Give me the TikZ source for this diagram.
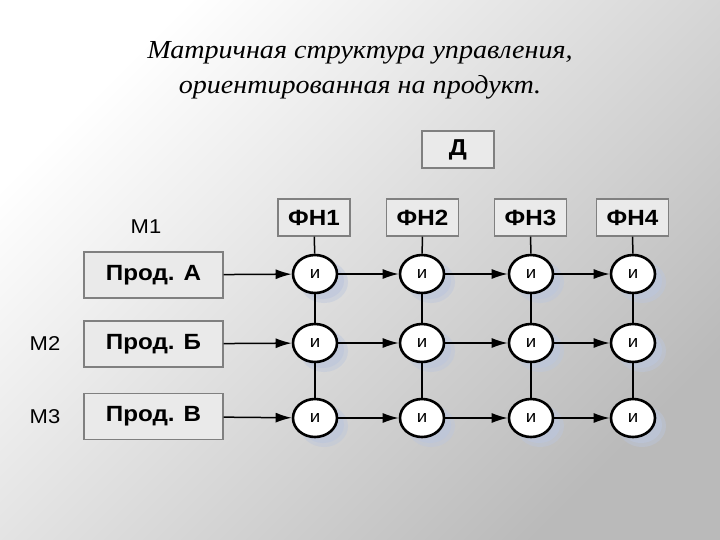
\documentclass[tikz,border=0pt]{standalone}
\usepackage{fontspec}
\setmainfont{Liberation Serif}
\setsansfont{Liberation Sans}
\newfontfamily\widesans[FakeStretch=1.1]{Liberation Sans}
\newfontfamily\widetitle[FakeStretch=1.08]{Liberation Serif}
\usetikzlibrary{shapes.geometric,arrows.meta}
\definecolor{bgdark}{RGB}{186,186,186}
\definecolor{boxfill}{RGB}{234,234,234}
\definecolor{boxline}{RGB}{128,128,128}
\definecolor{shadowc}{RGB}{188,198,220}
\begin{document}
\begin{tikzpicture}[x=1pt,y=-1pt,
  box/.style={draw=boxline,fill=boxfill,line width=1.2pt,inner sep=0pt,
    font=\widesans\bfseries\fontsize{22}{26}\selectfont},
  fnbox/.style={box,minimum width=72pt,minimum height=37pt},
  prodbox/.style={box,minimum width=139pt,minimum height=46pt,
    font=\widesans\bfseries\fontsize{22}{26}\selectfont},
  inode/.style={ellipse,draw=black,fill=white,line width=2.6pt,inner sep=0pt,
    minimum width=44pt,minimum height=38pt,font=\widesans\fontsize{17}{20}\selectfont},
  conn/.style={line width=1.5pt},
  arr/.style={conn,-{Latex[length=16pt,width=10pt]}},
  mlabel/.style={font=\widesans\fontsize{20}{24}\selectfont}
]
\useasboundingbox (0,0) rectangle (720,540);
\shade[shading=axis,top color=white,bottom color=bgdark,shading angle=45] (0,0) rectangle (720,540);

\node[align=center,font=\widetitle\itshape\fontsize{26}{35}\selectfont] (title) at (360,70)
  {Матричная структура управления,\\ориентированная на продукт.};

\node[fnbox,font=\widesans\bfseries\fontsize{23}{27}\selectfont] (D) at (458,149.5) {Д};
\node[fnbox] (F1) at (314,217.5) {ФН1};
\node[fnbox] (F2) at (422.5,217.5) {ФН2};
\node[fnbox] (F3) at (530.5,217.5) {ФН3};
\node[fnbox] (F4) at (632.5,217.5) {ФН4};

\node[prodbox] (P1) at (153.5,275) {Прод. А};
\node[prodbox] (P2) at (153.5,344) {Прод. Б};
\node[prodbox] (P3) at (153.5,416.5) {Прод. В};

\node[mlabel] (M1) at (146,227) {М1};
\node[mlabel] (M2) at (45,344) {М2};
\node[mlabel] (M3) at (45,417) {М3};

% shadows
\foreach \x in {315,422,531,633}
  \foreach \y in {274,343,418}{
    \fill[shadowc,opacity=0.45] (\x+9,\y+8) ellipse (24pt and 21pt);
    \fill[shadowc,opacity=0.6] (\x+8,\y+7) ellipse (21pt and 18pt);
  }

\foreach \c/\x in {1/315,2/422,3/531,4/633}
  \foreach \r/\y in {1/274,2/343,3/418}
    \node[inode] (n\r\c) at (\x,\y) {и};

% verticals
\foreach \c in {1,2,3,4}{
  \draw[conn] (F\c) -- (n1\c);
  \draw[conn] (n1\c) -- (n2\c);
  \draw[conn] (n2\c) -- (n3\c);
}
% horizontals
\foreach \r in {1,2,3}{
  \draw[arr] (P\r) -- (n\r1);
  \draw[arr] (n\r1) -- (n\r2);
  \draw[arr] (n\r2) -- (n\r3);
  \draw[arr] (n\r3) -- (n\r4);
}
\end{tikzpicture}
\end{document}
